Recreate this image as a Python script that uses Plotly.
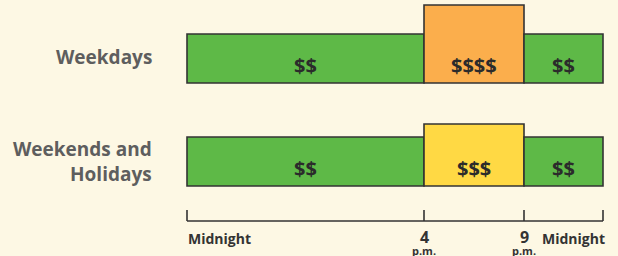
import plotly.graph_objects as go

# ---- data ----
rows = ["Weekdays", "Weekends and<br>Holidays"]
segment_labels = ["Midnight–4 p.m.", "4–9 p.m.", "9 p.m.–Midnight"]
segment_widths = [237, 100, 79]          # schematic widths of the three periods
weekday_prices = ["$$", "$$$$", "$$"]
weekend_prices = ["$$", "$$$", "$$"]
price_heights = {"$$": 49, "$$$": 62, "$$$$": 78}   # bar height by price level
price_colors = {"$$": "#5EB947", "$$$": "#FFD944", "$$$$": "#FBAE4C"}
tick_labels = ["Midnight", "4", "9", "Midnight"]
tick_sublabels = ["", "p.m.", "p.m.", ""]

row_bottoms = [83, 186]
row_label_y = [57, 161]
BG = "#FDF8E4"
EDGE = "#333333"
FONT = "Open Sans"

bounds = [0]
for w in segment_widths:
    bounds.append(bounds[-1] + w)
starts = bounds[:-1]

fig = go.Figure()
for rb, prices in zip(row_bottoms, [weekday_prices, weekend_prices]):
    hs = [price_heights[p] for p in prices]
    fig.add_trace(go.Bar(
        orientation="h",
        x=segment_widths, base=starts, y=[rb] * 3,
        width=hs, offset=[-h for h in hs],
        marker=dict(color=[price_colors[p] for p in prices],
                    line=dict(color=EDGE, width=1.6)),
        showlegend=False, hoverinfo="skip",
    ))
    for s, w, p in zip(starts, segment_widths, prices):
        fig.add_annotation(x=s + w / 2, y=rb - 18, text="<b>" + p + "</b>",
                           showarrow=False, xref="x", yref="y",
                           font=dict(family=FONT, size=20, color="#2B2B2B"))

# bracket axis
bx, by = [], []
for b in bounds:
    bx += [b, b, None]
    by += [210, 221, None]
bx += [bounds[0], bounds[-1]]
by += [221, 221]
fig.add_trace(go.Scatter(x=bx, y=by, mode="lines",
                         line=dict(color=EDGE, width=1.6),
                         showlegend=False, hoverinfo="skip", cliponaxis=False))

# tick labels
fig.add_annotation(x=bounds[0] - 1, y=238, text="<b>" + tick_labels[0] + "</b>",
                   xanchor="left", showarrow=False,
                   font=dict(family=FONT, size=14, color="#333333"))
for b, t, s in zip(bounds[1:3], tick_labels[1:3], tick_sublabels[1:3]):
    fig.add_annotation(x=b, y=237, text="<b>" + t + "</b>", xanchor="center",
                       showarrow=False, borderpad=0,
                       font=dict(family=FONT, size=16, color="#333333"))
    fig.add_annotation(x=b, y=250, text="<b>" + s + "</b>", xanchor="center",
                       showarrow=False, borderpad=0,
                       font=dict(family=FONT, size=11, color="#333333"))
fig.add_annotation(x=bounds[-1] + 4, y=238, text="<b>" + tick_labels[3] + "</b>",
                   xanchor="right", showarrow=False,
                   font=dict(family=FONT, size=14, color="#333333"))

# row labels
for yl, r in zip(row_label_y, rows):
    fig.add_annotation(x=-33, y=yl, text="<b>" + r + "</b>", xanchor="right",
                       showarrow=False, align="right",
                       font=dict(family=FONT, size=19, color="#5E5E5E"))

fig.update_layout(
    width=618, height=256,
    margin=dict(l=0, r=0, t=0, b=0),
    paper_bgcolor=BG, plot_bgcolor=BG,
    barmode="overlay",
    xaxis=dict(range=[-187, 431], visible=False, fixedrange=True),
    yaxis=dict(range=[256, 0], visible=False, fixedrange=True),
)
fig.write_html("out.html", config={"displayModeBar": False},
               post_script="document.body.style.margin='0';"
                           "document.body.style.background='" + BG + "';")
